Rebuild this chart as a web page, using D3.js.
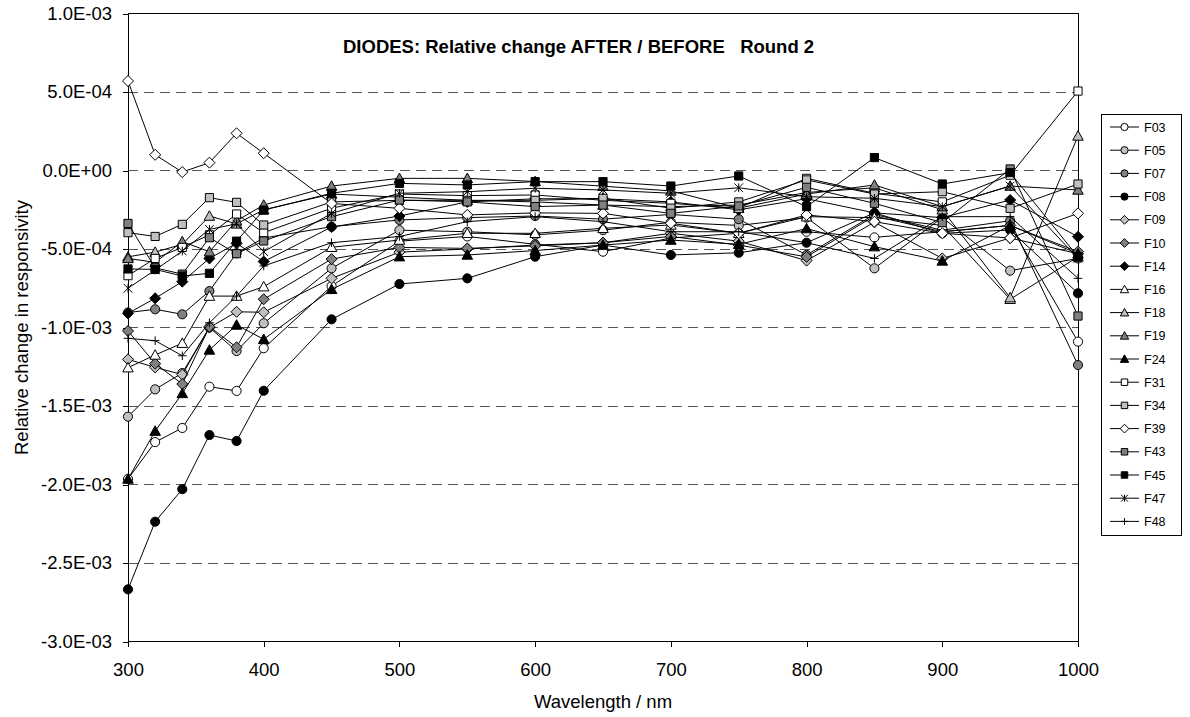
<!DOCTYPE html>
<html>
<head>
<meta charset="utf-8">
<script src="https://cdn.jsdelivr.net/npm/d3@7"></script>
<style>
  html, body { margin: 0; padding: 0; background: #fff; }
  svg { display: block; font-family: "Liberation Sans", Arial, sans-serif; }
</style>
</head>
<body>
<svg id="chart" width="1190" height="717"></svg>
<script>
// Wavelengths (nm)
const wavelengths = [300, 320, 340, 360, 380, 400, 450, 500, 550, 600, 650, 700, 750, 800, 850, 900, 950, 1000];

// Relative change AFTER / BEFORE, in units of 1E-04
const UNIT = 1e-4;
const F03 = [-19.65, -17.3, -16.4, -13.77, -14.04, -11.32, -7.36, -4.5, -4.2, -4.7, -5.17, -4.3, -4.0, -3.9, -4.26, -3.9, -3.5, -10.9];
const F05 = [-15.68, -13.94, -12.9, -10.0, -11.5, -9.73, -6.23, -3.8, -3.9, -4.1, -3.8, -3.3, -3.5, -3.0, -6.23, -3.0, -6.38, -5.6];
const F07 = [-9.05, -8.84, -9.16, -7.68, -5.27, -4.3, -3.58, -3.15, -3.0, -2.9, -3.1, -2.8, -3.1, -5.38, -2.8, -3.8, -3.2, -12.39];
const F08 = [-26.68, -22.37, -20.3, -16.85, -17.23, -14.03, -9.48, -7.23, -6.87, -5.49, -4.75, -5.38, -5.24, -4.6, -2.7, -4.0, -3.79, -7.82];
const F09 = [-12.03, -12.54, -13.0, -10.0, -9.0, -9.03, -6.87, -5.2, -5.0, -4.75, -4.6, -4.0, -4.5, -5.74, -3.3, -5.6, -4.3, -5.3];
const F10 = [-10.22, -12.3, -13.6, -9.95, -11.26, -8.2, -5.64, -4.9, -4.96, -4.8, -4.6, -4.2, -4.75, -5.5, -2.9, -3.9, -3.5, -5.17];
const F14 = [-9.1, -8.14, -7.08, -5.6, -4.64, -5.8, -3.6, -2.9, -2.0, -1.8, -1.8, -2.0, -2.5, -1.8, -2.7, -3.0, -1.88, -4.22];
const F16 = [-12.56, -11.75, -11.0, -8.0, -8.0, -7.4, -4.89, -4.43, -4.0, -4.0, -3.68, -3.47, -4.0, -2.94, -3.0, -3.5, -8.2, -5.5];
const F18 = [-5.5, -5.2, -4.7, -2.9, -3.4, -2.5, -1.5, -1.7, -1.9, -2.0, -2.2, -2.3, -2.2, -1.4, -1.1, -2.5, -8.1, 2.2];
const F19 = [-5.6, -5.85, -4.53, -5.17, -3.2, -2.2, -0.99, -0.5, -0.5, -0.7, -1.0, -1.3, -2.4, -1.5, -0.92, -2.3, -0.99, -1.24];
const F24 = [-19.65, -16.6, -14.2, -11.43, -9.84, -10.75, -7.57, -5.49, -5.38, -5.1, -4.75, -4.43, -4.7, -3.7, -4.85, -5.76, -3.5, -5.3];
const F31 = [-6.7, -5.6, -4.9, -4.1, -2.77, -3.96, -2.4, -1.5, -1.6, -1.56, -1.9, -2.09, -2.4, -0.5, -1.45, -2.0, -0.3, 5.06];
const F34 = [-3.96, -4.2, -3.43, -1.73, -2.03, -3.47, -2.0, -1.9, -1.9, -1.9, -1.77, -2.4, -2.0, -0.6, -1.5, -1.35, -2.41, -0.86];
const F39 = [5.7, 1.0, -0.1, 0.5, 2.37, 1.1, -2.1, -2.41, -2.83, -2.7, -2.73, -3.36, -4.0, -2.83, -3.26, -4.0, -4.3, -2.73];
const F43 = [-3.37, -6.2, -6.6, -4.28, -5.3, -4.49, -2.94, -1.88, -2.0, -2.3, -2.2, -2.73, -2.26, -1.07, -2.09, -3.32, 0.1, -9.27];
const F45 = [-6.27, -6.3, -6.72, -6.55, -4.5, -2.52, -1.45, -0.82, -0.92, -0.71, -0.71, -0.99, -0.35, -2.3, 0.82, -0.86, -0.14, -5.5];
const F47 = [-7.5, -6.34, -5.13, -3.75, -3.4, -5.17, -2.73, -1.45, -1.35, -1.13, -1.24, -1.45, -1.1, -1.67, -1.77, -2.3, -0.99, -5.6];
const F48 = [-10.69, -10.84, -11.8, -9.7, -8.0, -6.08, -4.6, -4.2, -3.26, -2.94, -3.26, -3.9, -3.9, -4.6, -5.6, -2.94, -2.94, -6.87];

const seriesNames = ["F03", "F05", "F07", "F08", "F09", "F10", "F14", "F16", "F18", "F19", "F24", "F31", "F34", "F39", "F43", "F45", "F47", "F48"];
const seriesValues = [F03, F05, F07, F08, F09, F10, F14, F16, F18, F19, F24, F31, F34, F39, F43, F45, F47, F48];
const seriesShapes = ["circle", "circle", "circle", "circle", "diamond", "diamond", "diamond", "triangle", "triangle", "triangle", "triangle", "square", "square", "diamond", "square", "square", "star", "plus"];
const seriesFills = ["#ffffff", "#c0c0c0", "#808080", "#000000", "#c0c0c0", "#808080", "#000000", "#ffffff", "#c0c0c0", "#808080", "#000000", "#ffffff", "#c0c0c0", "#ffffff", "#808080", "#000000", "none", "none"];

const yTicks = [1e-3, 5e-4, 0, -5e-4, -1e-3, -1.5e-3, -2e-3, -2.5e-3, -3e-3];
const xTicks = [300, 400, 500, 600, 700, 800, 900, 1000];

const titleText = "DIODES: Relative change AFTER / BEFORE\u00a0\u00a0\u00a0Round 2";
const xTitle = "Wavelength / nm";
const yTitle = "Relative change in responsivity";

// Layout
const plot = { left: 128, right: 1078, top: 13.5, bottom: 641.5 };
const svg = d3.select("#chart");

const x = d3.scaleLinear().domain([300, 1000]).range([plot.left, plot.right]);
const y = d3.scaleLinear().domain([-3e-3, 1e-3]).range([plot.bottom, plot.top]);

function sciFormat(v) {
  if (Math.abs(v) < 1e-12) return "0.0E+00";
  const e = Math.floor(Math.log10(Math.abs(v)) + 1e-9);
  const m = v / Math.pow(10, e);
  const es = (e < 0 ? "-" : "+") + String(Math.abs(e)).padStart(2, "0");
  return m.toFixed(1) + "E" + es;
}

// Marker path builder (centered at 0,0)
function markerPath(shape, s) {
  const p = d3.path();
  if (shape === "circle") {
    p.arc(0, 0, s * 0.95, 0, 2 * Math.PI);
  } else if (shape === "diamond") {
    const r = s * 1.15;
    p.moveTo(0, -r); p.lineTo(r, 0); p.lineTo(0, r); p.lineTo(-r, 0); p.closePath();
  } else if (shape === "square") {
    const r = s * 0.85;
    p.rect(-r, -r, 2 * r, 2 * r);
  } else if (shape === "triangle") {
    const r = s * 1.1;
    p.moveTo(0, -r); p.lineTo(r, r * 0.8); p.lineTo(-r, r * 0.8); p.closePath();
  } else if (shape === "star") {
    const r = s * 0.9;
    p.moveTo(-r, -r); p.lineTo(r, r);
    p.moveTo(-r, r); p.lineTo(r, -r);
    p.moveTo(0, -r); p.lineTo(0, r);
  } else if (shape === "plus") {
    const r = s * 0.9;
    p.moveTo(-r, 0); p.lineTo(r, 0);
    p.moveTo(0, -r); p.lineTo(0, r);
  }
  return p.toString();
}

// Gridlines (dashed) at interior major ticks
svg.append("g")
  .selectAll("line")
  .data(yTicks.filter(t => t < 9e-4 && t > -2.9e-3))
  .join("line")
  .attr("x1", plot.left).attr("x2", plot.right)
  .attr("y1", d => y(d)).attr("y2", d => y(d))
  .attr("stroke", "#555").attr("stroke-width", 1)
  .attr("stroke-dasharray", "10,6")
  .attr("shape-rendering", "crispEdges");

// Plot frame (top and right)
svg.append("path")
  .attr("d", `M${plot.left},${plot.top}H${plot.right}V${plot.bottom}`)
  .attr("fill", "none").attr("stroke", "#000").attr("stroke-width", 1)
  .attr("shape-rendering", "crispEdges");

// Axes
const yAxis = d3.axisLeft(y).tickValues(yTicks).tickFormat(sciFormat).tickSize(5).tickPadding(11);
const gy = svg.append("g").attr("transform", `translate(${plot.left},0)`).call(yAxis);
const xAxis = d3.axisBottom(x).tickValues(xTicks).tickFormat(d3.format("d")).tickSize(5).tickPadding(16);
const gx = svg.append("g").attr("transform", `translate(0,${plot.bottom})`).call(xAxis);
[gx, gy].forEach(g => {
  g.select(".domain").attr("stroke", "#000").attr("shape-rendering", "crispEdges");
  g.selectAll(".tick line").attr("stroke", "#000").attr("shape-rendering", "crispEdges");
  g.selectAll(".tick text").attr("fill", "#000").style("font-size", "18.5px")
    .style("font-family", "'Liberation Sans', Arial, sans-serif");
});
gx.select(".domain").attr("d", `M${plot.left},0H${plot.right}`);
gy.select(".domain").attr("d", `M0,${plot.top}V${plot.bottom}`);

// Axis titles
svg.append("text")
  .attr("x", (plot.left + plot.right) / 2).attr("y", 708)
  .attr("text-anchor", "middle").style("font-size", "18.5px")
  .text(xTitle);
svg.append("text")
  .attr("transform", `translate(28,${(plot.top + plot.bottom) / 2}) rotate(-90)`)
  .attr("text-anchor", "middle").style("font-size", "18.5px")
  .text(yTitle);

// Chart title
svg.append("text")
  .attr("x", 343).attr("y", 53)
  .style("font-size", "18.5px").style("font-weight", "bold")
  .text(titleText);

// Series lines and markers
const line = d3.line().x((d, i) => x(wavelengths[i])).y(d => y(d * UNIT));
const seriesG = svg.append("g");
seriesNames.forEach((name, k) => {
  const vals = seriesValues[k];
  const g = seriesG.append("g").attr("class", "series-" + name);
  g.append("path").attr("d", line(vals))
    .attr("fill", "none").attr("stroke", "#000").attr("stroke-width", 1);
  g.selectAll("path.mk").data(vals).join("path").attr("class", "mk")
    .attr("transform", (d, i) => `translate(${x(wavelengths[i])},${y(d * UNIT)})`)
    .attr("d", markerPath(seriesShapes[k], 4.8))
    .attr("fill", seriesFills[k]).attr("stroke", "#000").attr("stroke-width", 1);
});

// Legend
const legend = { x: 1101, y: 114, w: 80, h: 421, row0: 127, step: 23.2 };
const lg = svg.append("g");
lg.append("rect").attr("x", legend.x).attr("y", legend.y)
  .attr("width", legend.w).attr("height", legend.h)
  .attr("fill", "#fff").attr("stroke", "#000").attr("stroke-width", 1)
  .attr("shape-rendering", "crispEdges");
seriesNames.forEach((name, k) => {
  const cy = legend.row0 + k * legend.step;
  lg.append("line").attr("x1", 1110).attr("x2", 1139).attr("y1", cy).attr("y2", cy)
    .attr("stroke", "#000").attr("stroke-width", 1);
  lg.append("path").attr("transform", `translate(1124.5,${cy})`)
    .attr("d", markerPath(seriesShapes[k], 3.8))
    .attr("fill", seriesFills[k]).attr("stroke", "#000").attr("stroke-width", 1);
  lg.append("text").attr("x", 1144).attr("y", cy + 4.5)
    .style("font-size", "12.5px").text(name);
});
</script>
</body>
</html>
